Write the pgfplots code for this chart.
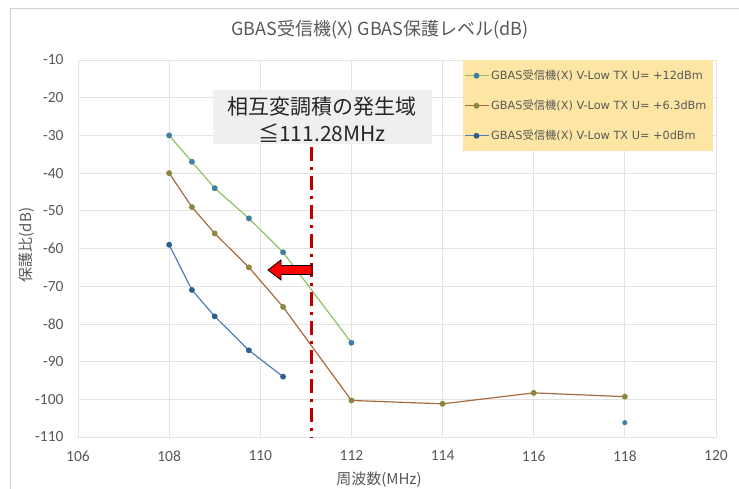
\documentclass[border=0pt]{standalone}
\usepackage{pgfplots}
\pgfplotsset{compat=1.18}
\usepackage{fontspec}
\setmainfont{Noto Sans CJK JP}
\newfontfamily\tickfont{Carlito}
\newfontfamily\dvs{DejaVu Sans}
\definecolor{gridc}{HTML}{E3E3E3}
\definecolor{txt}{HTML}{595959}
\definecolor{gline}{HTML}{8FC266}
\definecolor{gmark}{HTML}{3F7F9F}
\definecolor{bline}{HTML}{A86A3E}
\definecolor{bmark}{HTML}{8C8840}
\definecolor{uline}{HTML}{4F7FB8}
\definecolor{umark}{HTML}{2F5F8F}
\definecolor{redline}{HTML}{C00000}
\definecolor{legfill}{HTML}{FDE6A4}
\definecolor{boxfill}{HTML}{EFEFEF}
\newcommand{\legtxt}[1]{\makebox[219pt][l]{{\dvs GBAS}受信機{\dvs (X) V-Low TX U= #1}}}
\begin{document}
\begin{tikzpicture}
\path[use as bounding box] (0,0) rectangle (739pt,488pt);
\fill[white] (0,0) rectangle (739pt,488pt);
\draw[gray!35] (10pt,-5pt) rectangle (745pt,480pt);
\node[text=txt, font=\fontsize{18}{21}\selectfont] at (380pt,458pt) {GBAS受信機(X) GBAS保護レベル(dB)};
\begin{axis}[
 at={(78pt,51pt)}, anchor=south west, scale only axis, width=638pt, height=377pt,
 xmin=106, xmax=120, ymin=-110, ymax=-10,
 xtick={106,108,...,120}, ytick={-110,-100,...,-10},
 grid=major, grid style={gridc, line width=0.8pt},
 axis line style={gridc, line width=0.8pt},
 tick style={draw=none},
 ticklabel style={font=\tickfont\fontsize{15.5}{18}\selectfont, text=txt},
 /pgf/number format/assume math mode=true,
 xticklabel style={yshift=-10pt},
 yticklabel style={xshift=-11pt},
 legend style={at={(0.603,1)}, anchor=north west, fill=legfill, draw=none,
   font=\fontsize{11.3}{13}\selectfont, text=txt, row sep=15pt,
   inner xsep=1pt, inner ysep=8pt},
 legend image code/.code={\draw[mark repeat=2,mark phase=2,#1] plot coordinates {(0pt,0pt)(12pt,0pt)(24pt,0pt)};},
 legend cell align=left,
 clip=false,
]
\addplot[gline, line width=1.2pt, mark=*, mark size=2.3pt, mark options={fill=gmark, draw=gmark}] coordinates {
 (108,-30) (108.5,-37) (109,-44) (109.75,-52) (110.5,-61) (112,-85)};
\addlegendentry{\legtxt{+12dBm}}
\addplot[bline, line width=1.2pt, mark=*, mark size=2.3pt, mark options={fill=bmark, draw=bmark}] coordinates {
 (108,-40) (108.5,-49) (109,-56) (109.75,-65) (110.5,-75.5) (112,-100.3) (114,-101.2) (116,-98.3) (118,-99.3)};
\addlegendentry{\legtxt{+6.3dBm}}
\addplot[uline, line width=1.2pt, mark=*, mark size=2.3pt, mark options={fill=umark, draw=umark}] coordinates {
 (108,-59) (108.5,-71) (109,-78) (109.75,-87) (110.5,-94)};
\addlegendentry{\legtxt{+0dBm}}
\addplot[only marks, mark=*, mark size=2.3pt, mark options={fill=gmark, draw=gmark}, forget plot] coordinates {(118,-106.2)};
\draw[redline, line width=2.6pt, dash pattern=on 14pt off 6pt on 3pt off 6pt] (axis cs:111.13,-33) -- (axis cs:111.13,-110);
\end{axis}
\filldraw[fill=red, draw=black, line width=0.8pt] (268pt,218pt) -- (281pt,228pt) -- (281pt,222.5pt) -- (312pt,222.5pt) -- (312pt,213.5pt) -- (281pt,213.5pt) -- (281pt,208pt) -- cycle;
\fill[boxfill] (213pt,344pt) rectangle (432pt,398pt);
\node[font=\fontsize{21}{24}\selectfont, text=black!85] at (322pt,381pt) {相互変調積の発生域};
\node[font=\fontsize{21}{24}\selectfont, text=black!85] at (322pt,355pt) {≦111.28MHz};
\node[text=txt, font=\fontsize{15}{17}\selectfont] at (379pt,8.5pt) {周波数(MHz)};
\node[text=txt, font=\fontsize{15}{17}\selectfont, rotate=90] at (27pt,243pt) {保護比(dB)};
\end{tikzpicture}
\end{document}
